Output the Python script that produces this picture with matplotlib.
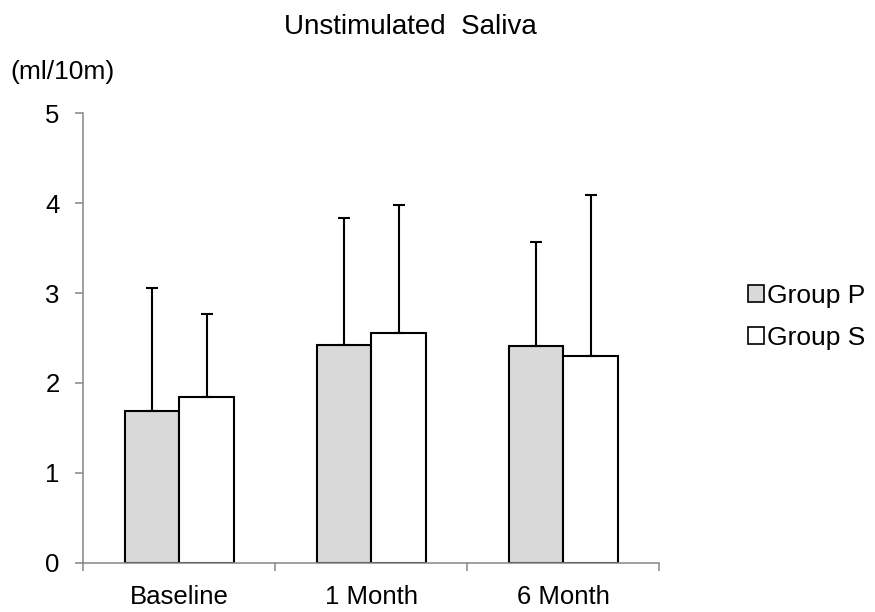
import numpy as np
import matplotlib
matplotlib.use("Agg")
import matplotlib.pyplot as plt

plt.rcParams['font.family'] = ['Liberation Sans', 'DejaVu Sans']

periods = ["Baseline", "1 Month", "6 Month"]
groups = ["Group P", "Group S"]
mean_p = [1.69, 2.42, 2.41]
sd_p = [1.37, 1.41, 1.16]
mean_s = [1.84, 2.55, 2.30]
sd_s = [0.93, 1.43, 1.79]
colors = ["#d9d9d9", "#ffffff"]

axis_grey = "#868686"

fig = plt.figure(figsize=(8.75, 6.12), dpi=100)
ax = fig.add_axes([0.0952, 0.0806, 0.6583, 0.7343])

x = np.arange(len(periods))
w = 0.285
err_kw = dict(ecolor="black", elinewidth=1.5, capsize=4, capthick=1.5)

ax.bar(x - w / 2, mean_p, w, yerr=[np.zeros(3), sd_p], color=colors[0],
       edgecolor="black", linewidth=1.5, label=groups[0], error_kw=err_kw)
ax.bar(x + w / 2, mean_s, w, yerr=[np.zeros(3), sd_s], color=colors[1],
       edgecolor="black", linewidth=1.5, label=groups[1], error_kw=err_kw)

ax.set_xlim(-0.5, len(periods) - 0.5)
ax.set_ylim(0, 5)

for side in ["top", "right"]:
    ax.spines[side].set_visible(False)
for side in ["left", "bottom"]:
    ax.spines[side].set_color(axis_grey)
    ax.spines[side].set_linewidth(1.1)

# boundaries get tick marks, centres get the labels
ax.set_xticks(np.arange(len(periods) + 1) - 0.5)
ax.set_xticklabels([])
ax.set_xticks(x, minor=True)
ax.set_xticklabels(periods, minor=True, fontsize=18.5)
ax.tick_params(axis="x", which="major", direction="out", length=6, width=1.1, color=axis_grey)
ax.tick_params(axis="x", which="minor", length=0, pad=16)

ax.set_yticks(range(6))
ax.set_yticklabels([str(i) for i in range(6)], fontsize=18.5)
ax.tick_params(axis="y", direction="out", length=6, width=1.1, color=axis_grey, pad=11)

fig.text(410 / 875, 1 - 27 / 612, "Unstimulated  Saliva", ha="center", va="center", fontsize=20)
fig.text(10 / 875, 1 - 72 / 612, "(ml/10m)", ha="left", va="center", fontsize=19)

leg = fig.legend(loc="center left", bbox_to_anchor=(748 / 875, 1 - 317 / 612),
                 frameon=False, fontsize=19, handlelength=0.62, handleheight=0.62,
                 handletextpad=0.1, labelspacing=0.7, borderpad=0, borderaxespad=0)
for h in leg.legend_handles:
    h.set_linewidth(1.2)

fig.savefig("out.png", dpi=100)
